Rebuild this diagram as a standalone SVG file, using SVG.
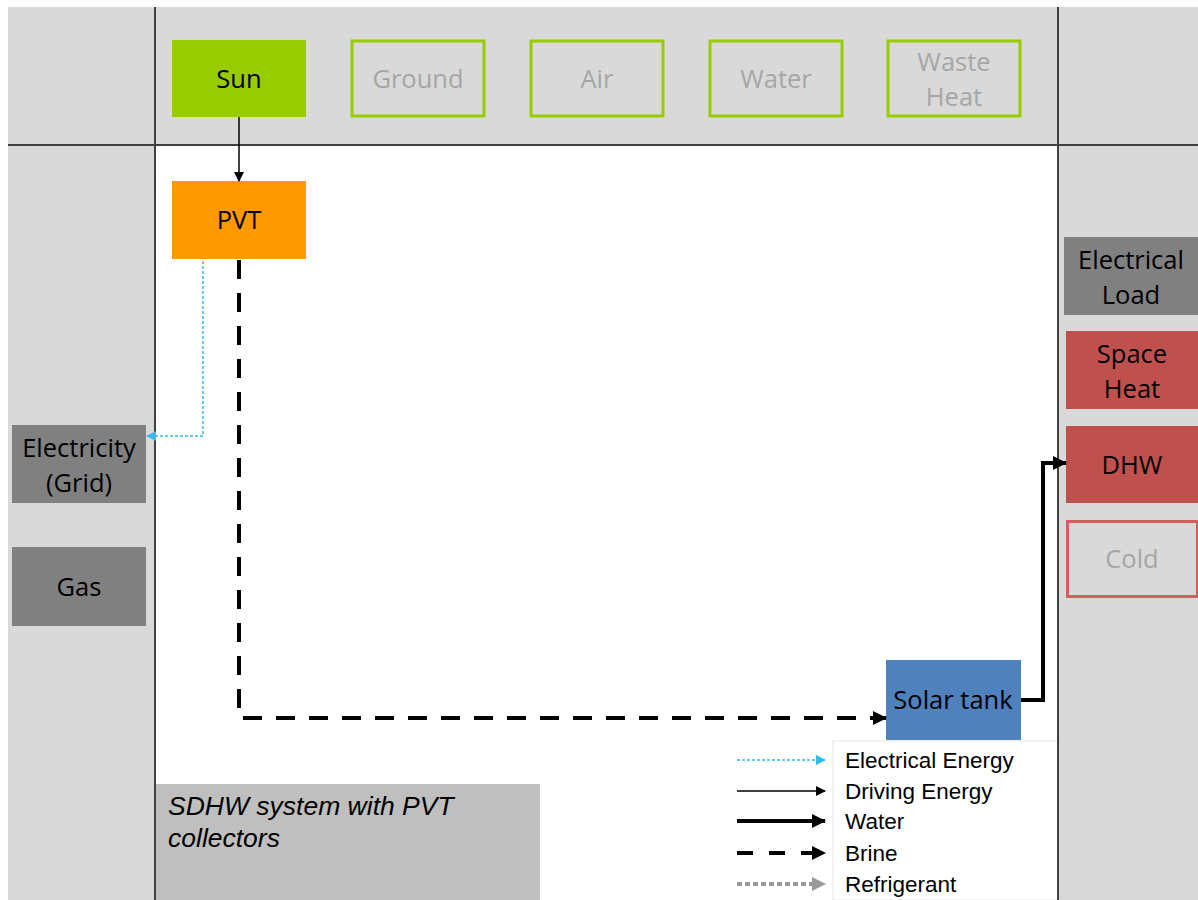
<svg xmlns="http://www.w3.org/2000/svg" width="1198" height="900" viewBox="0 0 1198 900">
<style>
.n{font-family:"Open Sans","Noto Sans",sans-serif;font-size:25.5px;text-anchor:middle;fill:#000}
.g{fill:#a6a6a6}
.src{fill:none;stroke:#99cc00;stroke-width:3}
.lg{font-family:"Liberation Sans",Arial,sans-serif;font-size:22.5px;fill:#000}
.cap{font-family:"Liberation Sans",Arial,sans-serif;font-size:26.5px;font-style:italic;fill:#000}
.div{stroke:#404040;stroke-width:2}
</style>
<defs>
<marker id="ab" markerWidth="10" markerHeight="10" refX="9" refY="5" orient="auto" markerUnits="userSpaceOnUse"><path d="M0,0 L10,5 L0,10 z" fill="#000"/></marker>
<marker id="abB" markerWidth="14" markerHeight="14" refX="13" refY="7" orient="auto" markerUnits="userSpaceOnUse"><path d="M0,0 L14,7 L0,14 z" fill="#000"/></marker>
<marker id="aE" markerWidth="10" markerHeight="10" refX="9" refY="5" orient="auto" markerUnits="userSpaceOnUse"><path d="M0,0 L10,5 L0,10 z" fill="#33bbee"/></marker>
<marker id="aR" markerWidth="14" markerHeight="14" refX="13" refY="7" orient="auto" markerUnits="userSpaceOnUse"><path d="M0,0 L14,7 L0,14 z" fill="#999"/></marker>
</defs>
<rect x="8" y="7" width="1190" height="893" fill="#d9d9d9"/>
<rect x="155" y="145" width="903" height="755" fill="#fff"/>
<rect x="155" y="784" width="385" height="116" fill="#bfbfbf"/>
<rect x="833" y="741" width="225" height="159" fill="#fff" stroke="#e6e6e6" stroke-width="1"/>
<line class="div" x1="155" y1="7" x2="155" y2="900"/>
<line class="div" x1="1058" y1="7" x2="1058" y2="900"/>
<line class="div" x1="8" y1="145" x2="1198" y2="145"/>

<g id="sun"><rect x="172" y="40" width="134" height="77" fill="#99cc00"/><text class="n" x="239" y="88">Sun</text></g>
<g id="ground"><rect class="src" x="352" y="41" width="132" height="75"/><text class="n g" x="418" y="88">Ground</text></g>
<g id="air"><rect class="src" x="531" y="41" width="132" height="75"/><text class="n g" x="597" y="88">Air</text></g>
<g id="water"><rect class="src" x="710" y="41" width="132" height="75"/><text class="n g" x="776" y="88">Water</text></g>
<g id="waste"><rect class="src" x="888" y="41" width="132" height="75"/><text class="n g" x="954" y="71">Waste</text><text class="n g" x="954" y="106">Heat</text></g>
<g id="pvt"><rect x="172" y="181" width="134" height="78" fill="#ff9900"/><text class="n" x="239" y="229">PVT</text></g>
<g id="grid"><rect x="12" y="425" width="134" height="78" fill="#808080"/><text class="n" x="79" y="457">Electricity</text><text class="n" x="79" y="492">(Grid)</text></g>
<g id="gas"><rect x="12" y="547" width="134" height="79" fill="#808080"/><text class="n" x="79" y="596">Gas</text></g>
<g id="eload"><rect x="1064" y="237" width="134" height="78" fill="#808080"/><text class="n" x="1131" y="269">Electrical</text><text class="n" x="1131" y="304">Load</text></g>
<g id="space"><rect x="1066" y="331" width="132" height="78" fill="#c0504d"/><text class="n" x="1132" y="363">Space</text><text class="n" x="1132" y="398">Heat</text></g>
<g id="dhw"><rect x="1066" y="426" width="132" height="77" fill="#c0504d"/><text class="n" x="1132" y="474">DHW</text></g>
<g id="cold"><rect x="1067.5" y="521.5" width="130" height="75" fill="none" stroke="#d06060" stroke-width="3"/><text class="n g" x="1132" y="568">Cold</text></g>
<g id="solar"><rect x="886" y="660" width="135" height="80" fill="#4f81bd"/><text class="n" x="953" y="709">Solar tank</text></g>

<g id="connectors">
<line x1="239" y1="117" x2="239" y2="181" stroke="#000" stroke-width="1.5" marker-end="url(#ab)"/>
<polyline points="203,261 203,436 147,436" fill="none" stroke="#33bbee" stroke-width="1.5" stroke-dasharray="3,2" marker-end="url(#aE)"/>
<polyline points="239,260 239,718 886,718" fill="none" stroke="#000" stroke-width="4" stroke-dasharray="19,14" marker-end="url(#abB)"/>
<polyline points="1021,700 1043,700 1043,463 1066,463" fill="none" stroke="#000" stroke-width="4" marker-end="url(#abB)"/>
</g>

<g id="legend">
<line x1="737" y1="760" x2="825" y2="760" stroke="#33bbee" stroke-width="1.5" stroke-dasharray="3,2" marker-end="url(#aE)"/>
<text class="lg" x="845" y="768">Electrical Energy</text>
<line x1="737" y1="791" x2="825" y2="791" stroke="#000" stroke-width="1.5" marker-end="url(#ab)"/>
<text class="lg" x="845" y="799">Driving Energy</text>
<line x1="737" y1="821" x2="825" y2="821" stroke="#000" stroke-width="4" marker-end="url(#abB)"/>
<text class="lg" x="845" y="829">Water</text>
<line x1="737" y1="853" x2="825" y2="853" stroke="#000" stroke-width="4" stroke-dasharray="16,16" marker-end="url(#abB)"/>
<text class="lg" x="845" y="861">Brine</text>
<line x1="737" y1="884" x2="825" y2="884" stroke="#999" stroke-width="4" stroke-dasharray="5,3" marker-end="url(#aR)"/>
<text class="lg" x="845" y="892">Refrigerant</text>
</g>
<text class="cap" x="168" y="815">SDHW system with PVT</text>
<text class="cap" x="168" y="847">collectors</text>
</svg>
